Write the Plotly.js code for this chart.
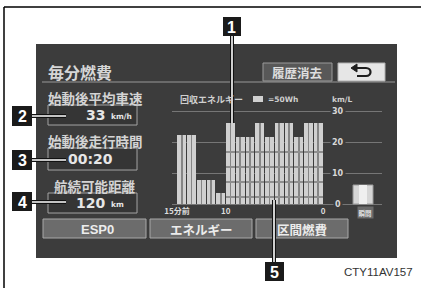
<!DOCTYPE html>
<html><head><meta charset="utf-8">
<script src="https://cdn.plot.ly/plotly-3.0.1.min.js"></script>
<style>html,body{margin:0;padding:0;background:#fff;}#chart{width:421px;height:288px;}</style>
</head><body><div id="chart"></div>
<script>
// ---- data ----
const minutesAgo = [15,14,13,12,11,10,9,8,7,6,5,4,3,2,1];
const fuelKmL    = [22.5,22.5,7.8,7.8,3.6,26.4,21.8,21.8,26.4,21.8,26.4,26.4,21.8,26.4,26.4];
const regenBlocks = [0,0,0,0,0,4,4,4,4,4,4,4,4,4,4];
const instantKmL = 6.2;
const xTickVals = [-15,-10,0];
const xTickText = ['15分前','10','0'];
const yTickVals = [0,10,20,30];
const infoLabels = ['始動後平均車速','始動後走行時間','航続可能距離'];
const infoValues = ['33','00:20','120'];
const infoUnits  = ['km/h','','km'];
const buttonLabels = ['ESP0','エネルギー','区間燃費'];

// ---- helpers ----
const W = 421, H = 288;
const X = p => p / W;
const Y = p => 1 - p / H;
const JP = 'Noto Sans CJK JP, Noto Sans, sans-serif';
const PANEL = '#3c3c3c';

const xs = minutesAgo.map(m => -m + 0.5);
const blockX = [], blockBase = [], blockY = [];
regenBlocks.forEach((n, i) => {
  for (let k = 0; k < n; k++) { blockX.push(xs[i]); blockBase.push(2.0 + 4.9 * k); blockY.push(0.55); }
});

const traces = [
  {type:'bar', x: xs, y: fuelKmL, width: 0.9, marker:{color:'#d0d0d0', line:{width:0}}, hoverinfo:'skip'},
  {type:'bar', x: xs, y: fuelKmL, width: 0.17, marker:{color:'#858585', line:{width:0}}, hoverinfo:'skip'},
  {type:'bar', x: blockX, y: blockY, base: blockBase, width: 0.9, marker:{color:'#8e8e8e', line:{width:0}}, hoverinfo:'skip'},
  {type:'bar', x: [4.11], y: [instantKmL], width: 2.05, marker:{color:'#d6d6d6', line:{color:'#9a9a9a', width:1}}, hoverinfo:'skip'},
  {type:'bar', x: [4.11], y: [instantKmL], width: 0.8, marker:{color:'#efefef', line:{width:0}}, hoverinfo:'skip'}
];

const shapes = [];
const rect = (x0,y0,x1,y1,fill,line,lw,layer) => shapes.push({type:'rect', xref:'paper', yref:'paper', x0:X(x0), x1:X(x1), y0:Y(y1), y1:Y(y0), fillcolor:fill, line:{color:line||'rgba(0,0,0,0)', width:lw||0}, layer:layer||'below'});
const seg = (x0,y0,x1,y1,color,w,layer) => shapes.push({type:'line', xref:'paper', yref:'paper', x0:X(x0), x1:X(x1), y0:Y(y0), y1:Y(y1), line:{color:color, width:w}, layer:layer||'below'});

// frame
seg(4,7,421,7,'#000',1.5,'above');
seg(4,7,4,288,'#000',1.5,'above');
// panel
rect(36,44,397,258,PANEL);
seg(42,82,395,82,'#7a7a7a',1.5);
// header buttons
rect(263,63,332,81,'#585858','#9a9a9a',1);
rect(338,63,385,81,'#e6e6e6','#b0b0b0',1);
// back arrow
shapes.push({type:'path', xref:'paper', yref:'paper', layer:'above', line:{color:'#1e1e1e', width:2.2}, fillcolor:'rgba(0,0,0,0)',
  path:`M ${X(356)} ${Y(68)} L ${X(366)} ${Y(68)} C ${X(372)} ${Y(68)} ${X(372)} ${Y(76)} ${X(366)} ${Y(76)} L ${X(357)} ${Y(76)}`});
shapes.push({type:'path', xref:'paper', yref:'paper', layer:'above', line:{color:'#1e1e1e', width:1}, fillcolor:'#1e1e1e',
  path:`M ${X(351)} ${Y(68)} L ${X(357)} ${Y(64)} L ${X(357)} ${Y(72)} Z`});
// info boxes
[[105,125],[148,170],[193,213]].forEach(b => rect(48,b[0],137,b[1],'#353535','#a3a3a3',1));
// bottom buttons
[[43,146],[150,252],[256,348]].forEach(b => rect(b[0],219,b[1],238,'#6c6c6c','#a8a8a8',1));
// legend box
rect(253,96,263,102,'#d0d0d0');
// callouts
const callouts = [
  {n:'1', box:[223,17,241,36], line:[232,36,232,123]},
  {n:'2', box:[12,106,32,126], line:[32,116,66,116]},
  {n:'3', box:[12,150,32,170], line:[32,160,66,160]},
  {n:'4', box:[12,192,32,211], line:[32,202,66,202]},
  {n:'5', box:[265,262,284,281], line:[274,200,274,262]}
];
callouts.forEach(c => {
  seg(c.line[0],c.line[1],c.line[2],c.line[3],'#111',4,'above');
  seg(c.line[0],c.line[1],c.line[2],c.line[3],'#fff',1.6,'above');
  rect(c.box[0],c.box[1],c.box[2],c.box[3],'#1a1a1a',null,0,'above');
});

const annotations = [];
const txt = (x,y,text,size,color,opts) => annotations.push(Object.assign({xref:'paper', yref:'paper', x:X(x), y:Y(y), text:text, showarrow:false, xanchor:'center', yanchor:'middle', font:{family:JP, size:size, color:color}}, opts||{}));

txt(80,72,'<b>毎分燃費</b>',16,'#d6d6d6');
txt(297,72,'<b>履歴消去</b>',12.5,'#dedede');
const infoY = [[98,115],[141,159],[186,203]];
infoLabels.forEach((l,i) => {
  txt(95,infoY[i][0],'<b>'+l+'</b>',13.5,'#d4d4d4');
  if (infoUnits[i]) {
    txt(107,infoY[i][1],'<b>'+infoValues[i]+'</b>',14,'#e6e6e6',{xanchor:'right', font:{family:'DejaVu Sans, sans-serif', size:14, color:'#e6e6e6'}});
    txt(109,infoY[i][1]+1,'<b>'+infoUnits[i]+'</b>',7.5,'#e6e6e6',{xanchor:'left', font:{family:'DejaVu Sans, sans-serif', size:7.5, color:'#e6e6e6'}});
  } else {
    txt(90,infoY[i][1],'<b>'+infoValues[i]+'</b>',14,'#e6e6e6',{font:{family:'DejaVu Sans, sans-serif', size:14, color:'#e6e6e6'}});
  }
});
const btnX = [97,201,302];
buttonLabels.forEach((b,i) => txt(btnX[i],229,'<b>'+b+'</b>',12.5,'#ececec', i===0?{font:{family:'Liberation Sans Narrow, Liberation Sans, sans-serif', size:13, color:'#ececec'}}:{}));
txt(211,99,'<b>回収エネルギー</b>',9,'#cfcfcf');
txt(266,99,'<b>=50Wh</b>',8,'#cfcfcf',{xanchor:'left', font:{family:'DejaVu Sans, sans-serif', size:7.5, color:'#cfcfcf'}});
txt(342,99,'<b>km/L</b>',8,'#cfcfcf',{font:{family:'DejaVu Sans, sans-serif', size:7.5, color:'#cfcfcf'}});
txt(365,212,'<b>瞬間</b>',6.5,'#e0e0e0',{bgcolor:'#6a6a6a', borderpad:0.5});
txt(378,272,'CTY11AV157',11.5,'#333',{font:{family:'Liberation Sans, Arial, sans-serif', size:11.5, color:'#333'}});
callouts.forEach(c => txt((c.box[0]+c.box[2])/2,(c.box[1]+c.box[3])/2+0.5,'<b>'+c.n+'</b>',16,'#fff',{font:{family:'Liberation Sans, Arial, sans-serif', size:16, color:'#fff'}}));
yTickVals.forEach(v => annotations.push({xref:'x', yref:'y', x:1.54, y:v, text:'<b>'+v+'</b>', showarrow:false, xanchor:'center', yanchor:'middle', bgcolor:PANEL, borderpad:1, font:{family:'DejaVu Sans, sans-serif', size:8, color:'#d8d8d8'}}));

const layout = {
  width: W, height: H,
  margin:{l:0,r:0,t:0,b:0},
  paper_bgcolor:'#ffffff', plot_bgcolor:'rgba(0,0,0,0)',
  showlegend:false, barmode:'overlay', bargap:0, hovermode:false,
  xaxis:{domain:[X(172),X(382)], range:[-15.514,6.06], tickvals:xTickVals, ticktext:xTickText, showgrid:false, zeroline:false, showline:false, ticks:'', tickfont:{family:JP, size:8, color:'#dcdcdc', weight:'bold'}, fixedrange:true},
  yaxis:{domain:[Y(205),Y(100)], range:[-0.326,33.91], tickvals:yTickVals, showticklabels:false, showgrid:true, gridcolor:'#767676', gridwidth:1, zeroline:false, showline:false, fixedrange:true},
  shapes: shapes,
  annotations: annotations
};
Plotly.newPlot('chart', traces, layout, {staticPlot:true, displayModeBar:false});
</script></body></html>
